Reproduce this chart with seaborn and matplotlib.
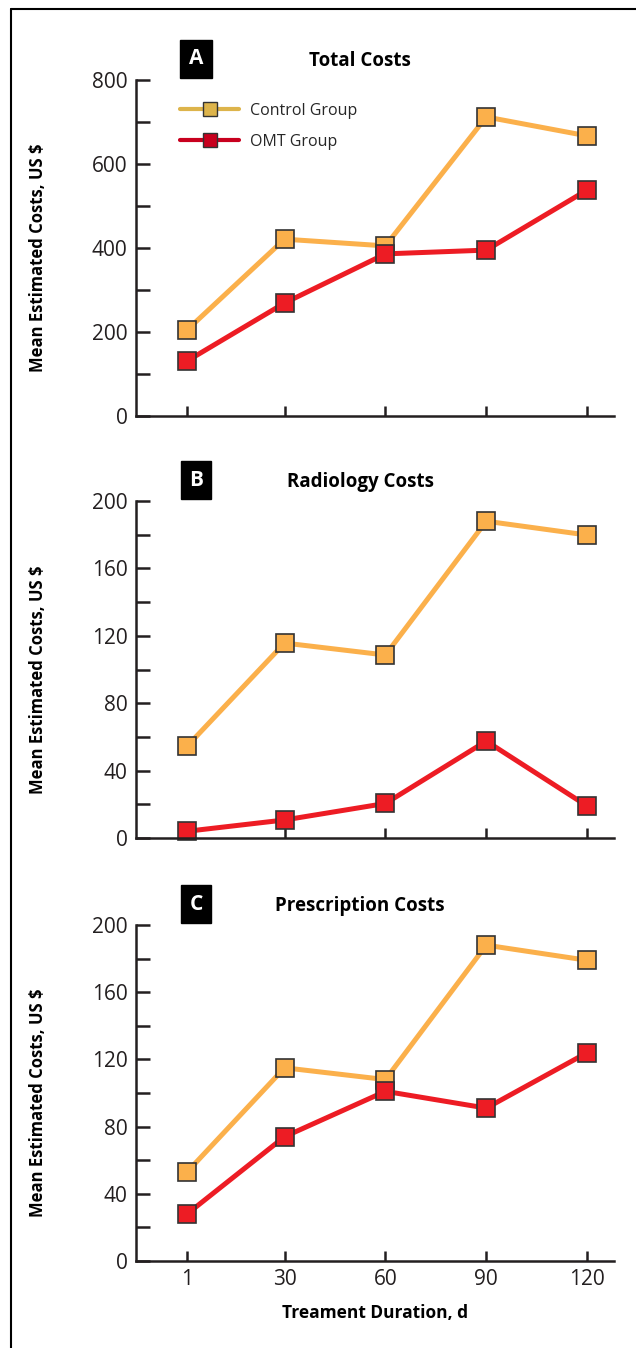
import pandas as pd
import seaborn as sns
import matplotlib
matplotlib.use("Agg")
import matplotlib.pyplot as plt
from matplotlib.lines import Line2D
from matplotlib.ticker import MultipleLocator

# Data
days = [1, 30, 60, 90, 120]
groups = ["Control Group", "OMT Group"]

total_control = [205, 421, 405, 712, 667]
total_omt = [131, 269, 386, 395, 538]
radiology_control = [54.5, 115.7, 108.6, 188, 179.8]
radiology_omt = [4, 10.7, 20.5, 57.5, 19]
prescription_control = [53, 115, 108, 188, 179]
prescription_omt = [28, 74, 101, 91, 124]

panel_letters = ["A", "B", "C"]
panel_titles = ["Total Costs", "Radiology Costs", "Prescription Costs"]
y_max = [800, 200, 200]
y_major = [200, 40, 40]
y_minor = [100, 20, 20]

ylabel = "Mean Estimated Costs, US $"
xlabel = "Treament Duration, d"

line_colors = {"Control Group": "#FBB04B", "OMT Group": "#ED1C24"}
legend_colors = {"Control Group": "#DDB44B", "OMT Group": "#C8001E"}
ink = "#231F20"


def make_frame(control, omt):
    rows = []
    for d, v in zip(days, control):
        rows.append({"day": d, "cost": v, "group": groups[0]})
    for d, v in zip(days, omt):
        rows.append({"day": d, "cost": v, "group": groups[1]})
    return pd.DataFrame(rows)


panels = [
    make_frame(total_control, total_omt),
    make_frame(radiology_control, radiology_omt),
    make_frame(prescription_control, prescription_omt),
]

sns.set_theme(style="white")
plt.rcParams["font.family"] = ["Open Sans", "DejaVu Sans"]

W, H = 636, 1348
fig = plt.figure(figsize=(W / 100, H / 100), dpi=100)

# axes boxes in pixels: (top, bottom)
boxes = [(80, 416), (501, 838), (925, 1261)]
left_px, right_px = 136, 614

for i, (df, (top, bot)) in enumerate(zip(panels, boxes)):
    ax = fig.add_axes([left_px / W, 1 - bot / H, (right_px - left_px) / W, (bot - top) / H])
    sns.lineplot(data=df, x="day", y="cost", hue="group", palette=line_colors,
                 marker="s", markersize=13, markeredgecolor="#333333",
                 markeredgewidth=1.2, linewidth=3.6, legend=False, ax=ax)
    for ln in ax.lines:
        ln.set_clip_on(False)

    ax.set_xlim(-14.2, 128)
    ax.set_ylim(0, y_max[i])
    ax.set_xticks(days)
    ax.yaxis.set_major_locator(MultipleLocator(y_major[i]))
    ax.yaxis.set_minor_locator(MultipleLocator(y_minor[i]))
    sns.despine(ax=ax)
    for s in ["left", "bottom"]:
        ax.spines[s].set_color(ink)
        ax.spines[s].set_linewidth(1.8)

    ax.tick_params(axis="y", which="both", direction="in", length=10, width=1.8,
                   color=ink, labelsize=15, labelcolor=ink, pad=6, left=True)
    ax.tick_params(axis="x", direction="in", length=7, width=1.8, color=ink,
                   labelsize=15, labelcolor=ink, pad=6, bottom=True)

    ax.set_ylabel(ylabel, fontsize=12, fontweight="bold", color="black")
    ax.yaxis.set_label_coords(-0.186, 0.47)
    if i < 2:
        ax.set_xticklabels([])
        ax.set_xlabel("")
    else:
        ax.set_xlabel(xlabel, fontsize=12.5, fontweight="bold", color="black", labelpad=10)

    ax.text(0.1255, 1 + 21 / (bot - top), panel_letters[i], transform=ax.transAxes,
            ha="center", va="center", color="white", fontsize=15, fontweight="bold",
            bbox=dict(boxstyle="square,pad=0.4", facecolor="black", edgecolor="black"))
    ax.text(0.469, 1 + 19 / (bot - top), panel_titles[i], transform=ax.transAxes,
            ha="center", va="center", color="black", fontsize=13.5, fontweight="bold")

    if i == 0:
        handles = [Line2D([0], [0], color=legend_colors[g], lw=3, marker="s",
                          markersize=10, markerfacecolor=legend_colors[g],
                          markeredgecolor="#333333", markeredgewidth=1.0)
                   for g in groups]
        ax.legend(handles, groups, loc="upper left", bbox_to_anchor=(0.092, 0.933),
                  frameon=False, fontsize=11.5, handlelength=3.7, handletextpad=0.7,
                  labelspacing=0.95, borderpad=0, borderaxespad=0)

# outer frame (only top and left visible in the crop)
fig.add_artist(Line2D([11 / W, 11 / W], [0, 1 - 9 / H], transform=fig.transFigure,
                      color="black", lw=1.5))
fig.add_artist(Line2D([11 / W, 1], [1 - 9 / H, 1 - 9 / H], transform=fig.transFigure,
                      color="black", lw=1.5))

fig.savefig("out.png", dpi=100)
